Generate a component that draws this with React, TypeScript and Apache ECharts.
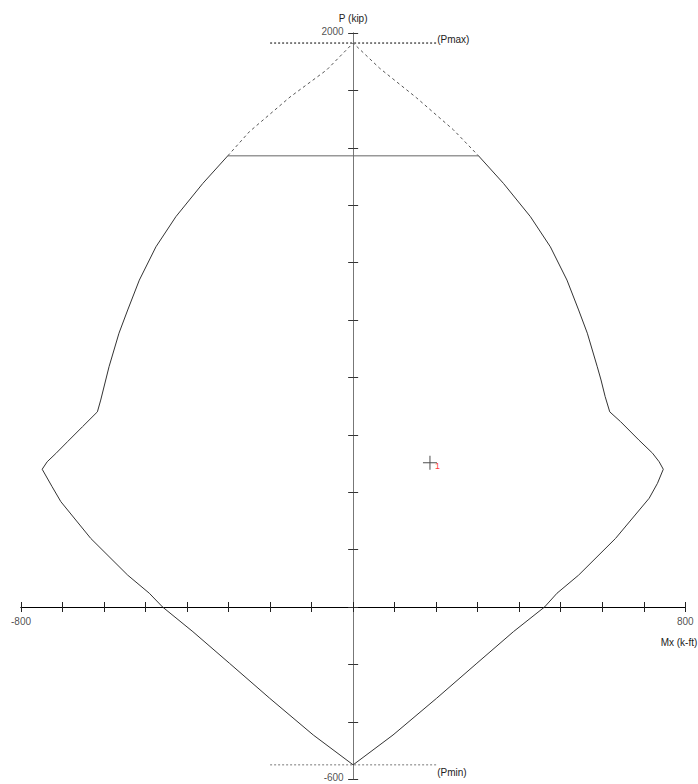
import React, { useEffect, useRef } from 'react';
import * as echarts from 'echarts';

// ---- Data ----
const X_LABELED_TICKS = [-800, 800];
const Y_LABELED_TICKS = [2000, -600];

// Interaction curve, left half: from cut-off corner down to Pmin
const leftCurve: number[][] = [
  [-302, 1572], [-362, 1476], [-427, 1360], [-475, 1255], [-515, 1139],
  [-543, 1035], [-564, 954], [-588, 837], [-608, 721], [-616, 680],
  [-652, 628], [-688, 576], [-716, 535], [-737, 506], [-749, 480],
  [-725, 419], [-704, 367], [-632, 239], [-543, 111], [-491, 48],
  [-459, 0], [-386, -86], [-298, -196], [-201, -318], [-96, -446], [0, -550],
];
// Right half: from Pmin up to the cut-off corner
const rightCurve: number[][] = [
  [0, -550], [96, -446], [201, -318], [298, -196], [386, -86],
  [461, 0], [491, 48], [543, 111], [632, 239], [713, 379], [733, 431],
  [747, 480], [737, 506], [721, 536], [688, 582], [644, 646], [618, 680],
  [607, 733], [597, 791], [588, 837], [564, 954], [543, 1035], [515, 1139],
  [475, 1255], [427, 1360], [362, 1476], [302, 1572],
];
const cutoffLine: number[][] = [[-302, 1572], [302, 1572]];
const dashedTop: number[][] = [
  [-302, 1572], [-250, 1656], [-152, 1777], [-64, 1871], [0, 1965],
  [64, 1877], [152, 1775], [242, 1662], [302, 1572],
];
const pmaxLine: number[][] = [[-200, 1965], [200, 1965]];
const pminLine: number[][] = [[-200, -550], [200, -550]];
const loadPoints: number[][] = [[185, 503]];
const loadLabels = ['1'];

const FONT = 'Liberation Sans, Arial, sans-serif';

export default function App() {
  const ref = useRef<HTMLDivElement>(null);
  useEffect(() => {
    if (!ref.current) return;
    const chart = echarts.init(ref.current, undefined, { renderer: 'svg' });

    const xBase: any = {
      type: 'value', min: -800, max: 800, interval: 100,
      splitLine: { show: false },
      axisLabel: { show: false },
      axisLine: { show: true, onZero: true, onZeroAxisIndex: 0, lineStyle: { color: '#000', width: 1 } },
      axisTick: { show: true, inside: false, length: 5, lineStyle: { color: '#222', width: 1 } },
    };
    const yBase: any = {
      type: 'value', min: -600, max: 2000, interval: 200,
      splitLine: { show: false },
      axisLabel: { show: false },
      axisLine: { show: true, onZero: true, onZeroAxisIndex: 0, lineStyle: { color: '#777', width: 1 } },
      axisTick: { show: true, inside: false, length: 5, lineStyle: { color: '#333', width: 1 } },
    };

    const tickLabelStyle = { fontSize: 10, color: '#222', fontFamily: FONT };

    chart.setOption({
      animation: false,
      backgroundColor: '#fff',
      grid: { left: 21, right: 12.7, top: 33, bottom: 4.8, containLabel: false, outerBoundsMode: 'none' },
      xAxis: [
        { ...xBase, position: 'bottom' },
        { ...xBase, position: 'top' },
      ],
      yAxis: [
        {
          ...yBase, position: 'left',
          name: 'P (kip)', nameLocation: 'end', nameGap: 15,
          nameTextStyle: { ...tickLabelStyle, align: 'center', verticalAlign: 'middle' },
        },
        { ...yBase, position: 'right' },
      ],
      graphic: [
        {
          type: 'text', x: 679, y: 642, silent: true,
          style: { text: 'Mx (k-ft)', fill: '#222', font: `10px ${FONT}`, align: 'center', verticalAlign: 'middle' },
        },
      ],
      series: [
        {
          type: 'line', data: [...leftCurve, ...rightCurve.slice(1)],
          symbol: 'none', showSymbol: false, silent: true,
          lineStyle: { color: '#333', width: 1 },
        },
        {
          type: 'line', data: cutoffLine, symbol: 'none', showSymbol: false, silent: true,
          lineStyle: { color: '#666', width: 1 },
        },
        {
          type: 'line', data: dashedTop, symbol: 'none', showSymbol: false, silent: true,
          lineStyle: { color: '#555', width: 1, type: [3, 3] },
        },
        {
          type: 'line', data: pmaxLine, symbol: 'none', showSymbol: false, silent: true,
          lineStyle: { color: '#000', width: 1, type: [2, 2] },
          endLabel: { show: true, formatter: '(Pmax)', distance: 1, offset: [0, -4], ...tickLabelStyle },
        },
        {
          type: 'line', data: pminLine, symbol: 'none', showSymbol: false, silent: true,
          lineStyle: { color: '#777', width: 1, type: [2, 2] },
          endLabel: { show: true, formatter: '(Pmin)', distance: 1, offset: [0, 8], ...tickLabelStyle },
        },
        // x-axis end tick labels, placed through the axis scale
        {
          type: 'scatter', silent: true, symbol: 'circle', symbolSize: 1,
          itemStyle: { color: 'rgba(0,0,0,0)' },
          data: X_LABELED_TICKS.map((v) => [v, 0]),
          label: {
            show: true, position: 'bottom', distance: 9, ...tickLabelStyle,
            formatter: (p: any) => String(X_LABELED_TICKS[p.dataIndex]),
          },
        },
        // y-axis end tick labels
        {
          type: 'scatter', silent: true, symbol: 'circle', symbolSize: 1,
          itemStyle: { color: 'rgba(0,0,0,0)' },
          data: Y_LABELED_TICKS.map((v) => [0, v]),
          label: {
            show: true, position: 'left', distance: 9, offset: [0, -2], ...tickLabelStyle,
            formatter: (p: any) => String(Y_LABELED_TICKS[p.dataIndex]),
          },
        },
        {
          type: 'scatter', data: loadPoints, silent: true,
          symbol: 'path://M0,6.5h14v1h-14z M6.5,0h1v14h-1z', symbolSize: 14,
          itemStyle: { color: '#222' },
          label: {
            show: true, position: [12, 6], color: '#ff0000', fontSize: 9, fontFamily: FONT,
            formatter: (p: any) => loadLabels[p.dataIndex],
          },
        },
      ],
    });
    return () => chart.dispose();
  }, []);

  return (
    <div
      ref={ref}
      style={{ position: 'fixed', left: 0, top: 0, width: 698, height: 784, background: '#fff' }}
    />
  );
}
